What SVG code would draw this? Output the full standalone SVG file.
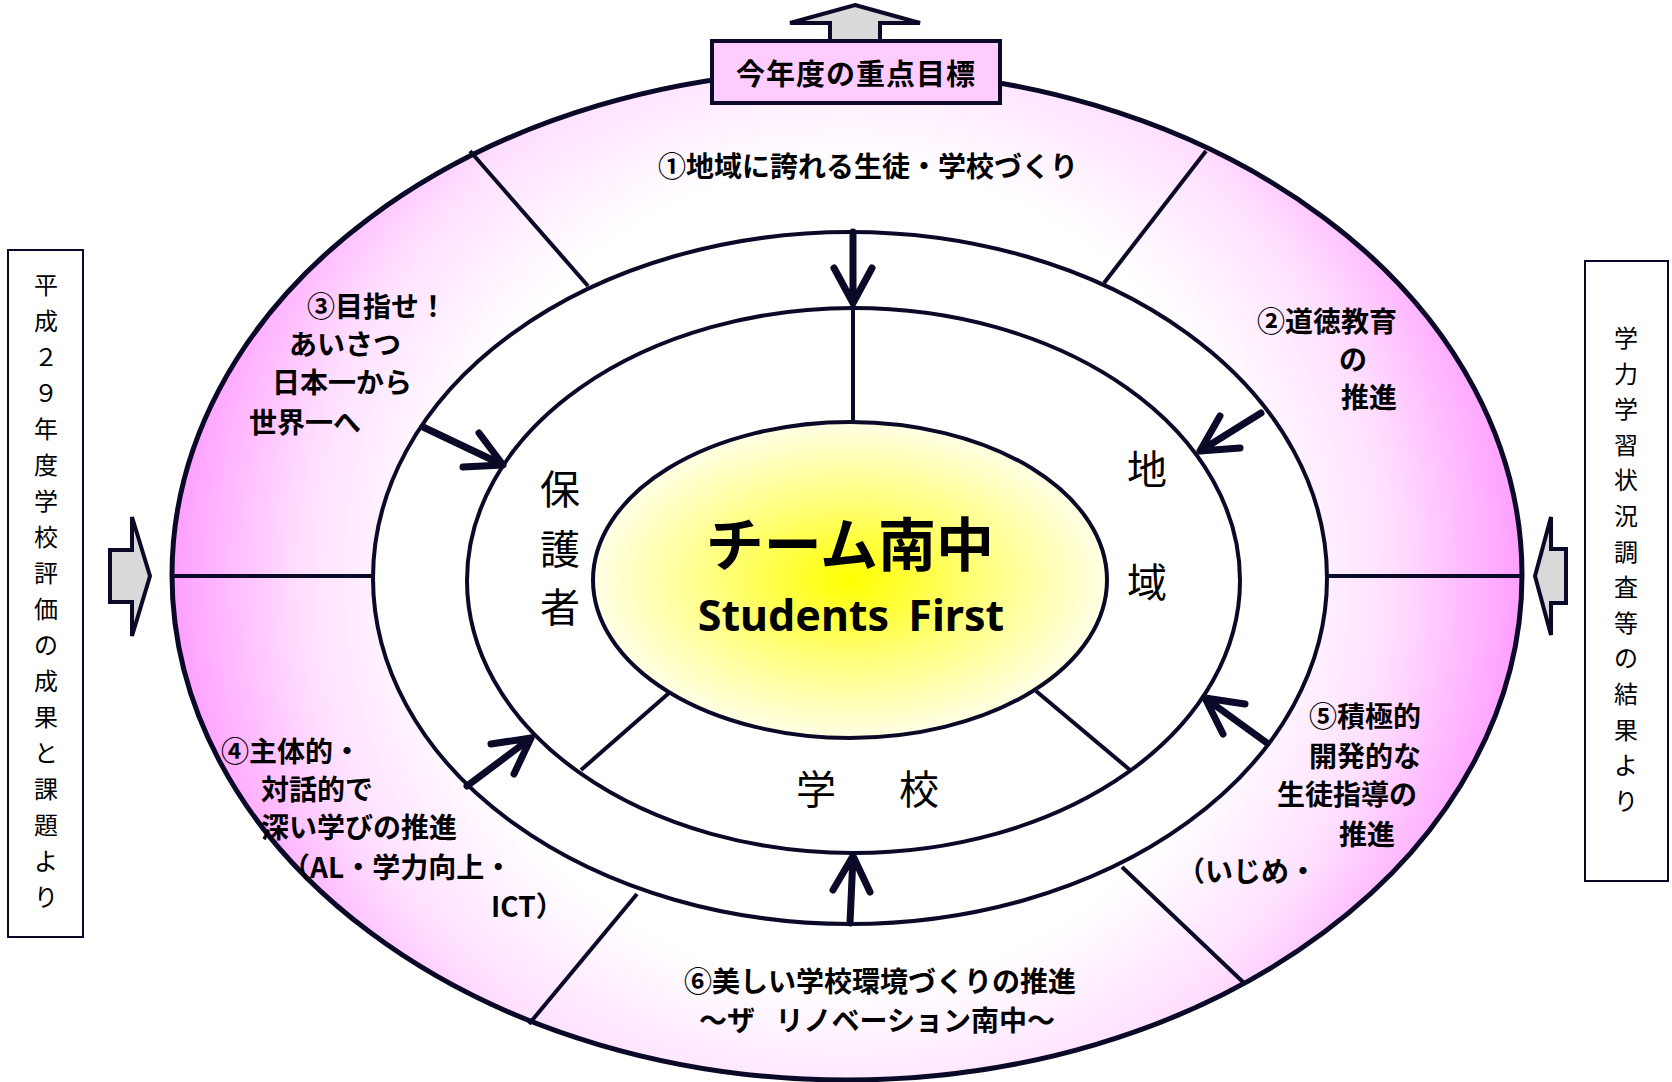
<svg xmlns="http://www.w3.org/2000/svg" width="1672" height="1082" viewBox="0 0 1672 1082">
<defs>
<radialGradient id="gOuter" gradientUnits="userSpaceOnUse" cx="847" cy="575" r="680">
<stop offset="0" stop-color="#ffffff"/>
<stop offset="0.6" stop-color="#ffffff"/>
<stop offset="0.8" stop-color="#ffe0ff"/>
<stop offset="1" stop-color="#ff9cff"/>
</radialGradient>
<radialGradient id="gCenter" cx="0.5" cy="0.5" r="0.5">
<stop offset="0" stop-color="#ffff00"/>
<stop offset="0.5" stop-color="#ffff7a"/>
<stop offset="1" stop-color="#ffffe6"/>
</radialGradient>
<style>
.ln{stroke:#0a0a28;fill:none}
.ring{stroke:#0a0a28;stroke-width:4}
.arr{stroke:#0a0a28;stroke-width:7;fill:none;stroke-linecap:round;stroke-linejoin:round}
.blk{fill:#d9d9d9;stroke:#0a0a28;stroke-width:4;stroke-linejoin:miter}
.side{fill:#ffffff;stroke:#0a0a28;stroke-width:2}
.jp{font-family:"Noto Sans CJK JP","Noto Sans",sans-serif;fill:#000}
.lbl{font-size:28px;font-weight:bold}
.vt{font-size:24px;font-weight:400;text-anchor:middle}
.big{font-size:40px;font-weight:400;text-anchor:middle}
</style>
</defs>

<g id="outer-ring">
<ellipse cx="847" cy="575" rx="675" ry="505" fill="url(#gOuter)" stroke="#0a0a28" stroke-width="5"/>
</g>

<g id="ring-dividers" class="ln" stroke-width="4">
<line x1="470" y1="151" x2="588" y2="286"/>
<line x1="1206" y1="151" x2="1104" y2="283"/>
<line x1="172" y1="576" x2="373" y2="576"/>
<line x1="1328" y1="576" x2="1522" y2="576"/>
<line x1="637" y1="894" x2="529" y2="1024"/>
<line x1="1122" y1="867" x2="1244" y2="983"/>
</g>

<g id="middle-ring">
<ellipse cx="850" cy="578" rx="477" ry="346" fill="#ffffff" class="ring"/>
</g>
<g id="inner-ring">
<ellipse cx="853.5" cy="580.5" rx="386.5" ry="272.5" fill="#ffffff" class="ring"/>
</g>

<g id="inner-dividers" class="ln" stroke-width="4">
<line x1="853" y1="308" x2="853" y2="422"/>
<line x1="669" y1="693" x2="581" y2="770"/>
<line x1="1036" y1="691" x2="1130" y2="770"/>
</g>

<g id="center">
<ellipse cx="850" cy="580" rx="257" ry="158" fill="url(#gCenter)" class="ring"/>
<text x="850" y="566" class="jp" font-size="58" font-weight="bold" text-anchor="middle">チーム南中</text>
<text x="851" y="631" font-family="'Noto Sans','Open Sans',sans-serif" font-size="43" font-weight="bold" text-anchor="middle" word-spacing="8">Students First</text>
</g>

<g id="guardians">
<text class="jp big"><tspan x="560" y="504">保</tspan><tspan x="560" y="564">護</tspan><tspan x="560" y="622">者</tspan></text>
</g>
<g id="community">
<text class="jp big"><tspan x="1147" y="484">地</tspan><tspan x="1147" y="597">域</tspan></text>
</g>
<g id="school">
<text class="jp big"><tspan x="816" y="804">学</tspan><tspan x="919" y="804">校</tspan></text>
</g>

<g id="title">
<polygon class="blk" points="855,5 920,23 880,23 880,42 830,42 830,23 790,23"/>
<rect x="712" y="41" width="288" height="62" fill="#ffccff" stroke="#0a0a28" stroke-width="4"/>
<text x="856" y="85" class="jp" font-size="29" font-weight="bold" text-anchor="middle" letter-spacing="1">今年度の重点目標</text>
</g>

<g id="goal1">
<text x="868" y="177" class="jp lbl" text-anchor="middle">①地域に誇れる生徒・学校づくり</text>
</g>
<g id="goal2">
<text class="jp lbl"><tspan x="1257" y="332">②道徳教育</tspan><tspan x="1339" y="370">の</tspan><tspan x="1341" y="408">推進</tspan></text>
</g>
<g id="goal3">
<text class="jp lbl"><tspan x="307" y="317">③目指せ！</tspan><tspan x="289" y="355">あいさつ</tspan><tspan x="272" y="393">日本一から</tspan><tspan x="249" y="433">世界一へ</tspan></text>
</g>
<g id="goal4">
<text class="jp lbl"><tspan x="221" y="762">④主体的・</tspan><tspan x="261" y="800">対話的で</tspan><tspan x="261" y="838">深い学びの推進</tspan><tspan x="282" y="878">（AL・学力向上・</tspan><tspan x="491" y="917">ICT）</tspan></text>
</g>
<g id="goal5">
<text class="jp lbl"><tspan x="1309" y="727">⑤積極的</tspan><tspan x="1309" y="767">開発的な</tspan><tspan x="1277" y="805">生徒指導の</tspan><tspan x="1339" y="845">推進</tspan><tspan x="1177" y="882">（いじめ・</tspan></text>
</g>
<g id="goal6">
<text class="jp lbl" text-anchor="middle"><tspan x="880" y="992">⑥美しい学校環境づくりの推進</tspan><tspan x="877" y="1031" word-spacing="14">～ザ リノベーション南中～</tspan></text>
</g>

<g id="left-source">
<rect class="side" x="8" y="250" width="75" height="687"/>
<text class="jp vt"><tspan x="46" y="294">平</tspan><tspan x="46" dy="36">成</tspan><tspan x="46" dy="36">２</tspan><tspan x="46" dy="36">９</tspan><tspan x="46" dy="36">年</tspan><tspan x="46" dy="36">度</tspan><tspan x="46" dy="36">学</tspan><tspan x="46" dy="36">校</tspan><tspan x="46" dy="36">評</tspan><tspan x="46" dy="36">価</tspan><tspan x="46" dy="36">の</tspan><tspan x="46" dy="36">成</tspan><tspan x="46" dy="36">果</tspan><tspan x="46" dy="36">と</tspan><tspan x="46" dy="36">課</tspan><tspan x="46" dy="36">題</tspan><tspan x="46" dy="36">よ</tspan><tspan x="46" dy="36">り</tspan></text>
</g>
<g id="right-source">
<rect class="side" x="1585" y="261" width="83" height="620"/>
<text class="jp vt"><tspan x="1626" y="347">学</tspan><tspan x="1626" dy="35.6">力</tspan><tspan x="1626" dy="35.6">学</tspan><tspan x="1626" dy="35.6">習</tspan><tspan x="1626" dy="35.6">状</tspan><tspan x="1626" dy="35.6">況</tspan><tspan x="1626" dy="35.6">調</tspan><tspan x="1626" dy="35.6">査</tspan><tspan x="1626" dy="35.6">等</tspan><tspan x="1626" dy="35.6">の</tspan><tspan x="1626" dy="35.6">結</tspan><tspan x="1626" dy="35.6">果</tspan><tspan x="1626" dy="35.6">よ</tspan><tspan x="1626" dy="35.6">り</tspan></text>
</g>

<g id="connectors">
<polygon class="blk" points="110,550 132,550 132,517 150,576 132,636 132,602 110,602"/>
<polygon class="blk" points="1535,576 1551,517 1551,549 1566,549 1566,603 1551,603 1551,635"/>
<path class="arr" d="M853,232 L853,303 M834,268 L853,303 L872,268"/>
<path class="arr" d="M423,427 L503,465 M479,433 L503,465 L463,467"/>
<path class="arr" d="M1261,413 L1200,451 M1240,448 L1200,451 L1220,416"/>
<path class="arr" d="M467,786 L531,738 M491,744 L531,738 L514,774"/>
<path class="arr" d="M1267,743 L1205,698 M1223,734 L1205,698 L1245,704"/>
<path class="arr" d="M850,923 L853,856 M833,890 L853,856 L870,892"/>
</g>
</svg>
